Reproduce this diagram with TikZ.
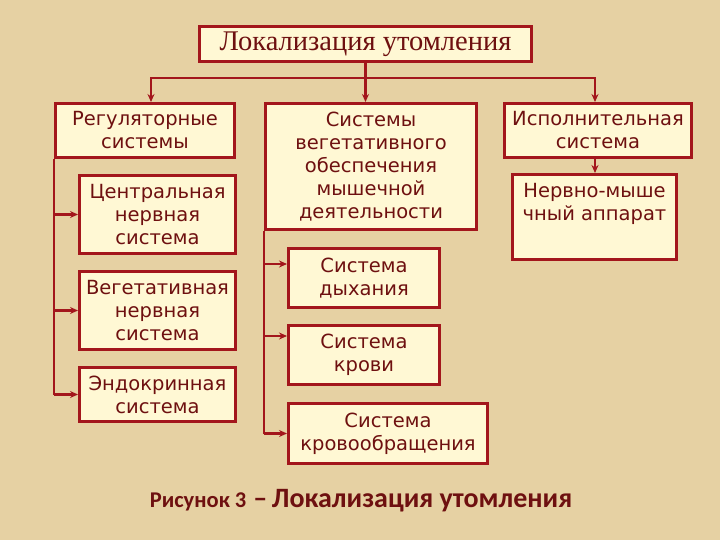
\documentclass[tikz,border=0pt]{standalone}
\usepackage{fontspec}
\setmainfont{DejaVu Sans}
\newfontfamily\titlefont{Liberation Serif}
\newfontfamily\capfont{Carlito}
\usetikzlibrary{positioning,calc,arrows.meta}

\definecolor{parchment}{HTML}{E6D1A3}
\definecolor{boxfill}{HTML}{FFF8D4}
\definecolor{boxred}{HTML}{A3161C}
\definecolor{txtred}{HTML}{6E1010}

\tikzset{
  box/.style={draw=boxred, line width=3pt, fill=boxfill, text=txtred,
    font=\fontsize{19.5}{23}\selectfont, align=center, inner sep=0pt, anchor=north west},
  link/.style={draw=boxred, line width=2.4pt},
  arr/.style={link, -{Stealth[length=8pt,width=7pt]}}
}

\begin{document}
\begin{tikzpicture}[x=1pt,y=-1pt]
  \fill[parchment] (0,0) rectangle (720,540);
  \useasboundingbox (0,0) rectangle (720,540);

  % top
  \node[box, minimum width=332pt, minimum height=35pt, font=\titlefont\fontsize{28.5}{32}\selectfont]
    (loc) at (198,25) {Локализация утомления};

  % three groups
  \node[box, minimum width=179pt, minimum height=54pt] (reg) at (54,102) {Регуляторные\\системы};
  \node[box, minimum width=211pt, minimum height=126pt] (veg) at (264,102)
    {Системы\\вегетативного\\обеспечения\\мышечной\\деятельности};
  \node[box, minimum width=187pt, minimum height=54pt] (isp) at (503,102) {Исполнительная\\система};

  % left column
  \node[box, minimum width=156pt, minimum height=78pt] (cns) at (78,174) {Центральная\\нервная\\система};
  \node[box, minimum width=156pt, minimum height=78pt] (vns) at (78,270) {Вегетативная\\нервная\\система};
  \node[box, minimum width=156pt, minimum height=54pt] (endo) at (78,366) {Эндокринная\\система};

  % middle column
  \node[box, minimum width=151pt, minimum height=59pt] (dyh) at (287,247) {Система\\дыхания};
  \node[box, minimum width=151pt, minimum height=59pt] (krov) at (287,324) {Система\\крови};
  \node[box, minimum width=199pt, minimum height=60pt] (kro) at (287,402) {Система\\кровообращения};

  % right column
  \node[box, minimum width=164pt, minimum height=85pt] (nma) at (511,173) {Нервно-мыше\\чный аппарат\\\strut};

  % links from the top
  \coordinate (split) at (loc.south |- 0,78);
  \draw[arr] (loc.south) -- (loc.south |- veg.north);
  \draw[arr] (split) -| ([xshift=6pt]reg.north);
  \draw[arr] (split) -| ([xshift=-3pt]isp.north);

  % left branch
  \draw[link] (reg.south west) -- (reg.south west |- endo.west);
  \foreach \n in {cns,vns,endo}
    \draw[arr] (reg.south west |- \n.west) -- (\n.west);

  % middle branch
  \draw[link] (veg.south west) -- (veg.south west |- kro.west);
  \draw[arr] (veg.south west |- 0,264) -- (dyh.west |- 0,264);
  \draw[arr] (veg.south west |- 0,336) -- (krov.west |- 0,336);
  \draw[arr] (veg.south west |- kro.west) -- (kro.west);

  % right branch
  \draw[arr] ([xshift=-3pt]isp.south) -- ([xshift=-3pt]isp.south |- nma.north);

  % caption
  \node[text=txtred, font=\capfont\bfseries, anchor=base] (cap) at (361,507)
    {{\fontsize{22.5}{26}\selectfont Рисунок 3} {\fontsize{28}{32}\selectfont \,–\,Локализация утомления}};
\end{tikzpicture}
\end{document}
